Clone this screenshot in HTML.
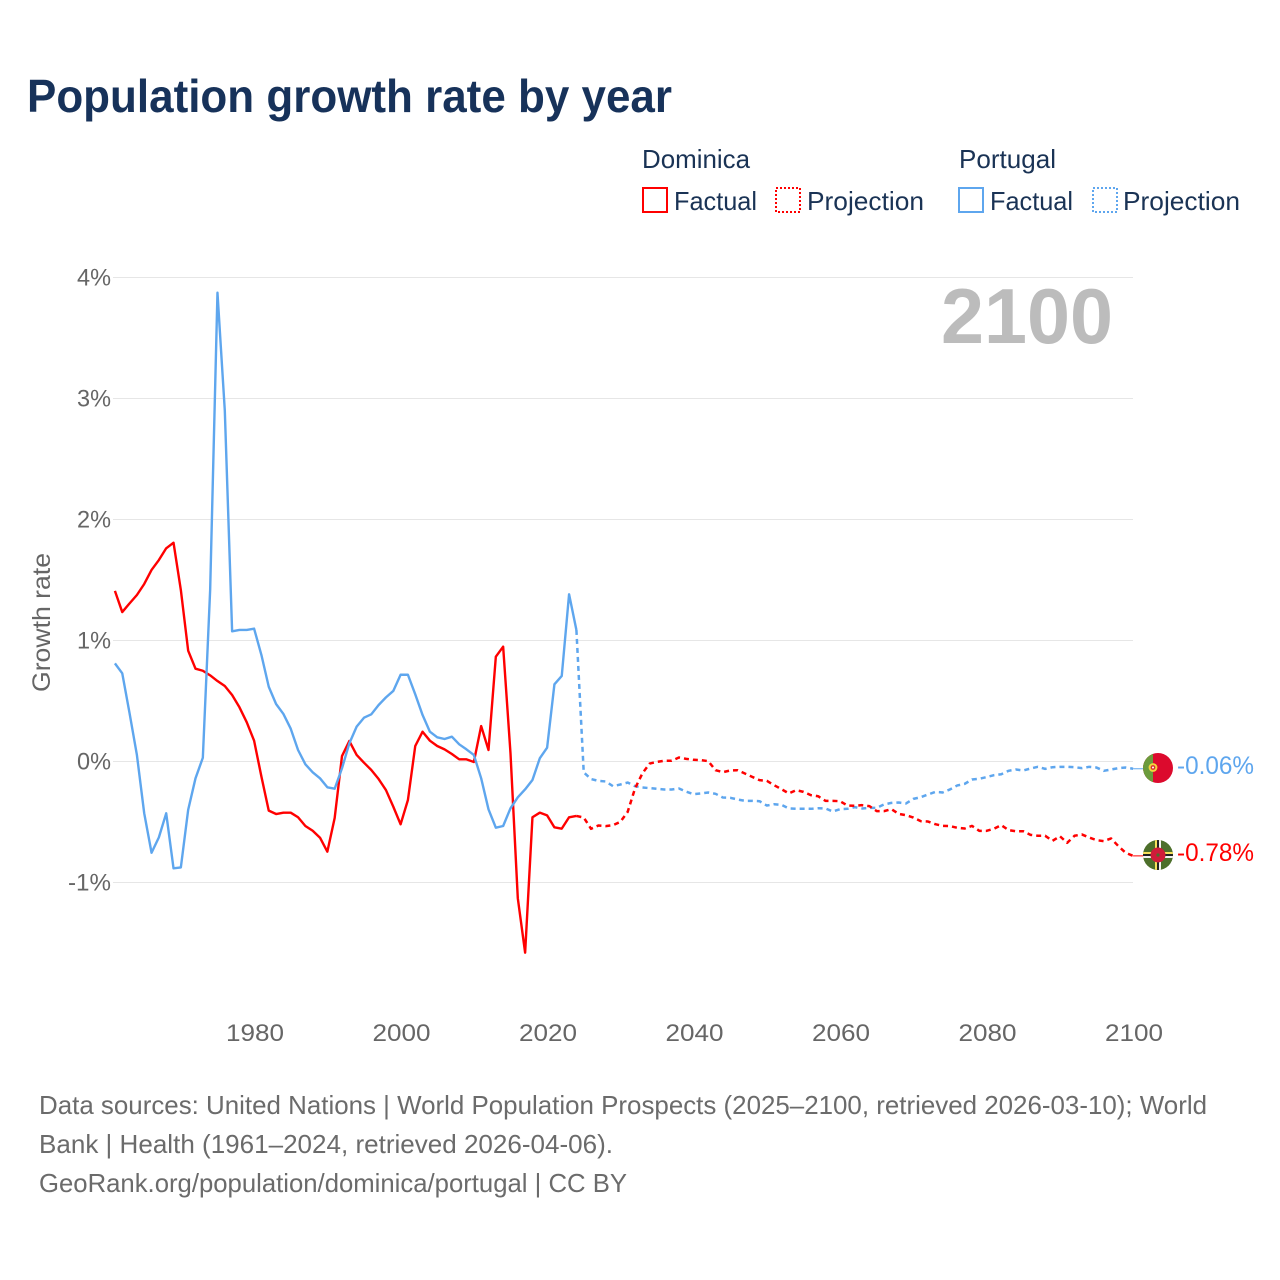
<!DOCTYPE html>
<html lang="en">
<head>
<meta charset="utf-8">
<title>Population growth rate by year</title>
<style>
html,body{margin:0;padding:0;background:#fff;width:1280px;height:1280px;overflow:hidden}
svg{display:block}
text{font-family:"Liberation Sans",sans-serif}
</style>
</head>
<body>
<svg id="chart" xmlns="http://www.w3.org/2000/svg" width="1280" height="1280" viewBox="0 0 1280 1280">
  <rect x="0" y="0" width="1280" height="1280" fill="#fff"/>
  <text x="27" y="112" font-size="46" font-weight="700" fill="#17325a" textLength="645" lengthAdjust="spacingAndGlyphs">Population growth rate by year</text>

  <g>
    <text x="642" y="168" font-size="26" fill="#1a3355" textLength="108" lengthAdjust="spacingAndGlyphs">Dominica</text>
    <rect x="643" y="188" width="24" height="24" fill="none" stroke="#ff0000" stroke-width="2"/>
    <text x="674" y="210" font-size="26" fill="#1a3355" textLength="83" lengthAdjust="spacingAndGlyphs">Factual</text>
    <rect x="776" y="188" width="24" height="24" fill="none" stroke="#ff0000" stroke-width="2" stroke-dasharray="2 2"/>
    <text x="807" y="210" font-size="26" fill="#1a3355" textLength="117" lengthAdjust="spacingAndGlyphs">Projection</text>
    <text x="959" y="168" font-size="26" fill="#1a3355" textLength="97" lengthAdjust="spacingAndGlyphs">Portugal</text>
    <rect x="959" y="188" width="24" height="24" fill="none" stroke="#5ea6ee" stroke-width="2"/>
    <text x="990" y="210" font-size="26" fill="#1a3355" textLength="83" lengthAdjust="spacingAndGlyphs">Factual</text>
    <rect x="1093" y="188" width="24" height="24" fill="none" stroke="#5ea6ee" stroke-width="2" stroke-dasharray="2 2"/>
    <text x="1123" y="210" font-size="26" fill="#1a3355" textLength="117" lengthAdjust="spacingAndGlyphs">Projection</text>
  </g>

  <g id="grid"></g>
  <g id="yticks"></g>
  <g id="xticks"></g>
  <text transform="translate(50,622.5) rotate(-90)" text-anchor="middle" font-size="25" fill="#666" textLength="139" lengthAdjust="spacingAndGlyphs">Growth rate</text>
  <text x="941" y="343" font-size="78" font-weight="700" fill="#bcbcbc" textLength="172" lengthAdjust="spacingAndGlyphs">2100</text>

  <g id="series" fill="none" stroke-linejoin="round"></g>

  <defs>
    <clipPath id="clip-pt"><circle cx="1158" cy="768" r="15"/></clipPath>
    <clipPath id="clip-dm"><circle cx="1158" cy="855" r="15"/></clipPath>
  </defs>
  <g clip-path="url(#clip-pt)">
    <rect x="1143" y="753" width="30" height="30" fill="#dc0a2d"/>
    <rect x="1143" y="753" width="10" height="30" fill="#6b9b3c"/>
    <circle cx="1153" cy="767.5" r="4.4" fill="#f4d53c"/>
    <circle cx="1153" cy="767.5" r="2.4" fill="#d8322e"/>
    <circle cx="1153" cy="767.5" r="1" fill="#fff"/>
  </g>
  <g clip-path="url(#clip-dm)">
    <rect x="1143" y="840" width="30" height="30" fill="#4d6f2b"/>
    <rect x="1143" y="852" width="30" height="6" fill="#f6e05a"/>
    <rect x="1143" y="854" width="30" height="2" fill="#222"/>
    <rect x="1143" y="856" width="30" height="2" fill="#f4f4f4"/>
    <rect x="1155" y="840" width="6" height="30" fill="#f6e05a"/>
    <rect x="1157" y="840" width="2" height="30" fill="#222"/>
    <rect x="1159" y="840" width="2" height="30" fill="#f4f4f4"/>
    <circle cx="1158" cy="855" r="7.5" fill="#d01c3a"/>
    <circle cx="1158" cy="855" r="1.6" fill="#4d6f2b"/>
  </g>
  <text x="1177" y="774" font-size="25" fill="#5ea6ee" textLength="77" lengthAdjust="spacingAndGlyphs">-0.06%</text>
  <text x="1177" y="861" font-size="25" fill="#ff0000" textLength="77" lengthAdjust="spacingAndGlyphs">-0.78%</text>

  <g font-size="26" fill="#6b6b6b">
    <text x="39" y="1114" textLength="1168" lengthAdjust="spacingAndGlyphs">Data sources: United Nations | World Population Prospects (2025–2100, retrieved 2026-03-10); World</text>
    <text x="39" y="1153" textLength="574" lengthAdjust="spacingAndGlyphs">Bank | Health (1961–2024, retrieved 2026-04-06).</text>
    <text x="39" y="1192" textLength="588" lengthAdjust="spacingAndGlyphs">GeoRank.org/population/dominica/portugal | CC BY</text>
  </g>
</svg>
<script>
const factualStartYear = 1961;
const projectionStartYear = 2024;
const xTickYears = [1980, 2000, 2020, 2040, 2060, 2080, 2100];
const yTickValues = [4, 3, 2, 1, 0, -1];
const yTickLabels = ["4%", "3%", "2%", "1%", "0%", "-1%"];

const dominicaFactual = [1.41,1.235,1.307,1.376,1.467,1.583,1.665,1.762,1.808,1.417,0.916,0.767,0.75,0.712,0.665,0.624,0.55,0.448,0.324,0.172,-0.125,-0.406,-0.434,-0.423,-0.423,-0.461,-0.533,-0.572,-0.63,-0.745,-0.467,0.045,0.169,0.054,-0.01,-0.07,-0.145,-0.236,-0.373,-0.519,-0.318,0.128,0.246,0.172,0.128,0.1,0.062,0.018,0.018,-0.004,0.293,0.095,0.866,0.949,0.07,-1.13,-1.58,-0.461,-0.423,-0.445,-0.544,-0.555,-0.461,-0.45];
const portugalFactual = [0.811,0.729,0.398,0.054,-0.428,-0.754,-0.627,-0.428,-0.883,-0.875,-0.4,-0.139,0.031,1.417,3.874,2.9,1.076,1.087,1.087,1.098,0.88,0.618,0.475,0.393,0.271,0.095,-0.023,-0.089,-0.139,-0.213,-0.225,-0.056,0.15,0.288,0.362,0.39,0.467,0.53,0.583,0.717,0.717,0.555,0.384,0.246,0.2,0.186,0.205,0.142,0.1,0.054,-0.139,-0.395,-0.547,-0.533,-0.387,-0.296,-0.23,-0.153,0.026,0.114,0.638,0.707,1.382,1.087];
const dominicaProjection = [-0.45,-0.463,-0.556,-0.529,-0.534,-0.526,-0.499,-0.416,-0.223,-0.099,-0.017,-0.003,0.006,0.006,0.033,0.022,0.014,0.011,0.003,-0.072,-0.088,-0.074,-0.072,-0.099,-0.127,-0.154,-0.16,-0.196,-0.229,-0.264,-0.237,-0.251,-0.278,-0.287,-0.325,-0.325,-0.328,-0.364,-0.366,-0.361,-0.369,-0.41,-0.41,-0.394,-0.433,-0.444,-0.463,-0.493,-0.496,-0.518,-0.532,-0.534,-0.548,-0.554,-0.532,-0.573,-0.573,-0.556,-0.526,-0.567,-0.576,-0.576,-0.606,-0.614,-0.614,-0.656,-0.617,-0.672,-0.614,-0.603,-0.628,-0.65,-0.658,-0.636,-0.7,-0.755,-0.78];
const portugalProjection = [1.087,-0.09,-0.145,-0.16,-0.165,-0.204,-0.19,-0.174,-0.204,-0.215,-0.22,-0.226,-0.231,-0.231,-0.223,-0.25,-0.27,-0.264,-0.256,-0.267,-0.298,-0.3,-0.314,-0.325,-0.325,-0.328,-0.364,-0.353,-0.358,-0.388,-0.391,-0.391,-0.391,-0.386,-0.388,-0.413,-0.394,-0.391,-0.377,-0.388,-0.383,-0.383,-0.355,-0.342,-0.339,-0.347,-0.309,-0.295,-0.273,-0.251,-0.256,-0.231,-0.198,-0.185,-0.149,-0.143,-0.129,-0.113,-0.105,-0.077,-0.066,-0.074,-0.058,-0.044,-0.061,-0.047,-0.044,-0.044,-0.047,-0.055,-0.044,-0.05,-0.077,-0.066,-0.055,-0.05,-0.06];

const NS = "http://www.w3.org/2000/svg";
const xScale = function (year) { return 1134 - (2100 - year) * 7.325; };
const markXScale = function (year) { return xScale(year) - 0.9; };
const yScale = function (value) { return 761.5 - value * 121; };

function linePath(values, startYear) {
  return values.map(function (v, i) {
    return (i ? "L" : "M") + markXScale(startYear + i).toFixed(2) + " " + yScale(v).toFixed(2);
  }).join(" ");
}

const grid = document.getElementById("grid");
const yticks = document.getElementById("yticks");
const xticks = document.getElementById("xticks");
const series = document.getElementById("series");

yTickValues.forEach(function (v, i) {
  const gridLine = document.createElementNS(NS, "line");
  
  
  gridLine.setAttribute("x1", 113);
  gridLine.setAttribute("x2", 1133);
  gridLine.setAttribute("y1", yScale(v));
  gridLine.setAttribute("y2", yScale(v));
  gridLine.setAttribute("stroke", "#e6e6e6");
  gridLine.setAttribute("stroke-width", 1);
  grid.appendChild(gridLine);

  const label = document.createElementNS(NS, "text");
  
  
  label.setAttribute("x", 111);
  label.setAttribute("y", yScale(v) + 8);
  label.setAttribute("text-anchor", "end");
  label.setAttribute("font-size", 24);
  label.setAttribute("fill", "#666");
  label.setAttribute("textLength", yTickLabels[i].length === 3 ? 43 : 34);
  label.setAttribute("lengthAdjust", "spacingAndGlyphs");
  label.textContent = yTickLabels[i];
  yticks.appendChild(label);
});

xTickYears.forEach(function (year) {
  const label = document.createElementNS(NS, "text");
  
  
  label.setAttribute("x", xScale(year));
  label.setAttribute("y", 1041);
  label.setAttribute("text-anchor", "middle");
  label.setAttribute("font-size", 24);
  label.setAttribute("fill", "#666");
  label.setAttribute("textLength", 58);
  label.setAttribute("lengthAdjust", "spacingAndGlyphs");
  label.textContent = String(year);
  xticks.appendChild(label);
});

function addConnector(value, color) {
  const connector = document.createElementNS(NS, "line");
  
  
  connector.setAttribute("x1", markXScale(2100));
  connector.setAttribute("x2", 1143);
  connector.setAttribute("y1", yScale(value));
  connector.setAttribute("y2", yScale(value));
  connector.setAttribute("stroke", color);
  connector.setAttribute("stroke-width", 1);
  series.appendChild(connector);
}
addConnector(portugalProjection[portugalProjection.length - 1], "#5ea6ee");
addConnector(dominicaProjection[dominicaProjection.length - 1], "#ff0000");

const portugalProjectionLine = document.createElementNS(NS, "path");


portugalProjectionLine.setAttribute("d", linePath(portugalProjection, projectionStartYear));
portugalProjectionLine.setAttribute("stroke", "#5ea6ee");
portugalProjectionLine.setAttribute("stroke-width", 2.5);
portugalProjectionLine.setAttribute("stroke-dasharray", "5 4");
series.appendChild(portugalProjectionLine);

const dominicaProjectionLine = document.createElementNS(NS, "path");


dominicaProjectionLine.setAttribute("d", linePath(dominicaProjection, projectionStartYear));
dominicaProjectionLine.setAttribute("stroke", "#ff0000");
dominicaProjectionLine.setAttribute("stroke-width", 2.5);
dominicaProjectionLine.setAttribute("stroke-dasharray", "5 4");
series.appendChild(dominicaProjectionLine);

const dominicaFactualLine = document.createElementNS(NS, "path");


dominicaFactualLine.setAttribute("d", linePath(dominicaFactual, factualStartYear));
dominicaFactualLine.setAttribute("stroke", "#ff0000");
dominicaFactualLine.setAttribute("stroke-width", 2.4);
series.appendChild(dominicaFactualLine);

const portugalFactualLine = document.createElementNS(NS, "path");


portugalFactualLine.setAttribute("d", linePath(portugalFactual, factualStartYear));
portugalFactualLine.setAttribute("stroke", "#5ea6ee");
portugalFactualLine.setAttribute("stroke-width", 2.4);
series.appendChild(portugalFactualLine);
</script>
</body>
</html>
